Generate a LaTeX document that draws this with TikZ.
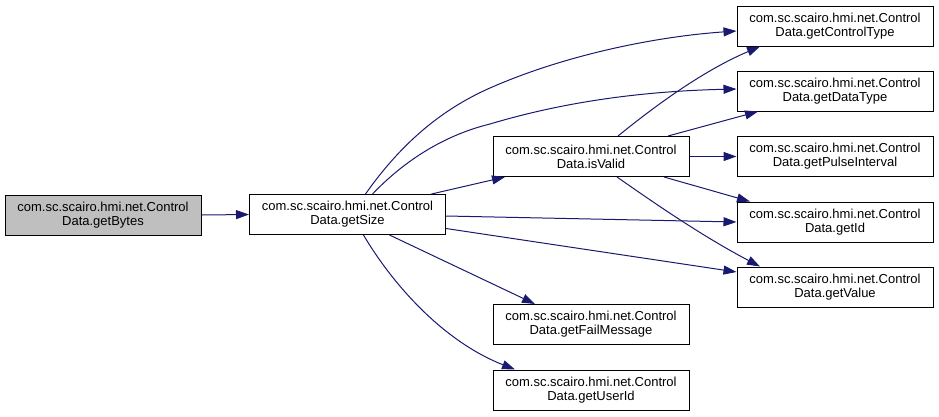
\documentclass[tikz,border=0pt]{standalone}
\usepackage{fontspec}
\setmainfont{Liberation Sans}
\usetikzlibrary{arrows.meta}

\definecolor{edgeblue}{RGB}{25,25,112}
\definecolor{callergray}{RGB}{191,191,191}

\begin{document}
\begin{tikzpicture}[x = 1pt, y = -1pt,
	fn/.style = {draw = black, line width = 1pt, fill = white, rectangle,
		minimum width = 196pt, minimum height = 40pt, inner sep = 0pt,
		align = center, font = \fontsize{13}{14}\selectfont},
	call/.style = {draw = edgeblue, line width = 1pt,
		-{Triangle[length = 13pt, width = 9pt]}}]
	\useasboundingbox (0,0) rectangle (939,416);

	\node[fn, fill = callergray] (bytes) at (103,215) {com.sc.scairo.hmi.net.Control\\Data.getBytes};
	\node[fn] (size)  at (347.5,214.5) {com.sc.scairo.hmi.net.Control\\Data.getSize};
	\node[fn] (valid) at (591,156.5) {com.sc.scairo.hmi.net.Control\\Data.isValid};
	\node[fn] (ctype) at (835,26) {com.sc.scairo.hmi.net.Control\\Data.getControlType};
	\node[fn] (dtype) at (835,91) {com.sc.scairo.hmi.net.Control\\Data.getDataType};
	\node[fn] (pulse) at (835,156.5) {com.sc.scairo.hmi.net.Control\\Data.getPulseInterval};
	\node[fn] (id)    at (835,222) {com.sc.scairo.hmi.net.Control\\Data.getId};
	\node[fn] (value) at (835,287) {com.sc.scairo.hmi.net.Control\\Data.getValue};
	\node[fn] (fail)  at (591,324.5) {com.sc.scairo.hmi.net.Control\\Data.getFailMessage};
	\node[fn] (user)  at (591,390) {com.sc.scairo.hmi.net.Control\\Data.getUserId};

	% getBytes
	\draw[call] (bytes.east) -- (size.west);

	% getSize
	\draw[call] ([xshift = 18pt]size.north) .. controls (400,145) and (440,110) .. (490,88)
		.. controls (560,57) and (650,37) .. ([yshift = -5pt]ctype.west);
	\draw[call] ([xshift = 25pt]size.north) .. controls (405,160) and (445,135) .. (490,124)
		.. controls (570,100) and (650,91) .. ([yshift = 2pt]dtype.west);
	\draw[call] ([xshift = 84pt]size.north) -- ([xshift = -86pt]valid.south);
	\draw[call] ([yshift = -1.5pt]size.east) -- (id.west);
	\draw[call] ([yshift = -14pt]size.east) -- ([yshift = 15pt]value.west);
	\draw[call] ([xshift = 42pt]size.south) -- ([xshift = -56pt]fail.north);
	\draw[call] ([xshift = 16pt]size.south) .. controls (390,280) and (440,340) .. ([xshift = -76pt]user.north);

	% isValid
	\draw[call] ([xshift = 27pt]valid.north) .. controls (650,110) and (700,72) .. ([xshift = -75pt]ctype.south);
	\draw[call] ([xshift = 77pt]valid.north) -- ([xshift = -77pt]dtype.south);
	\draw[call] (valid.east) -- (pulse.west);
	\draw[call] ([xshift = 73pt]valid.south) -- ([xshift = -85pt]id.north);
	\draw[call] ([xshift = 26pt]valid.south) .. controls (650,200) and (700,235) .. ([xshift = -75pt]value.north);
\end{tikzpicture}
\end{document}
